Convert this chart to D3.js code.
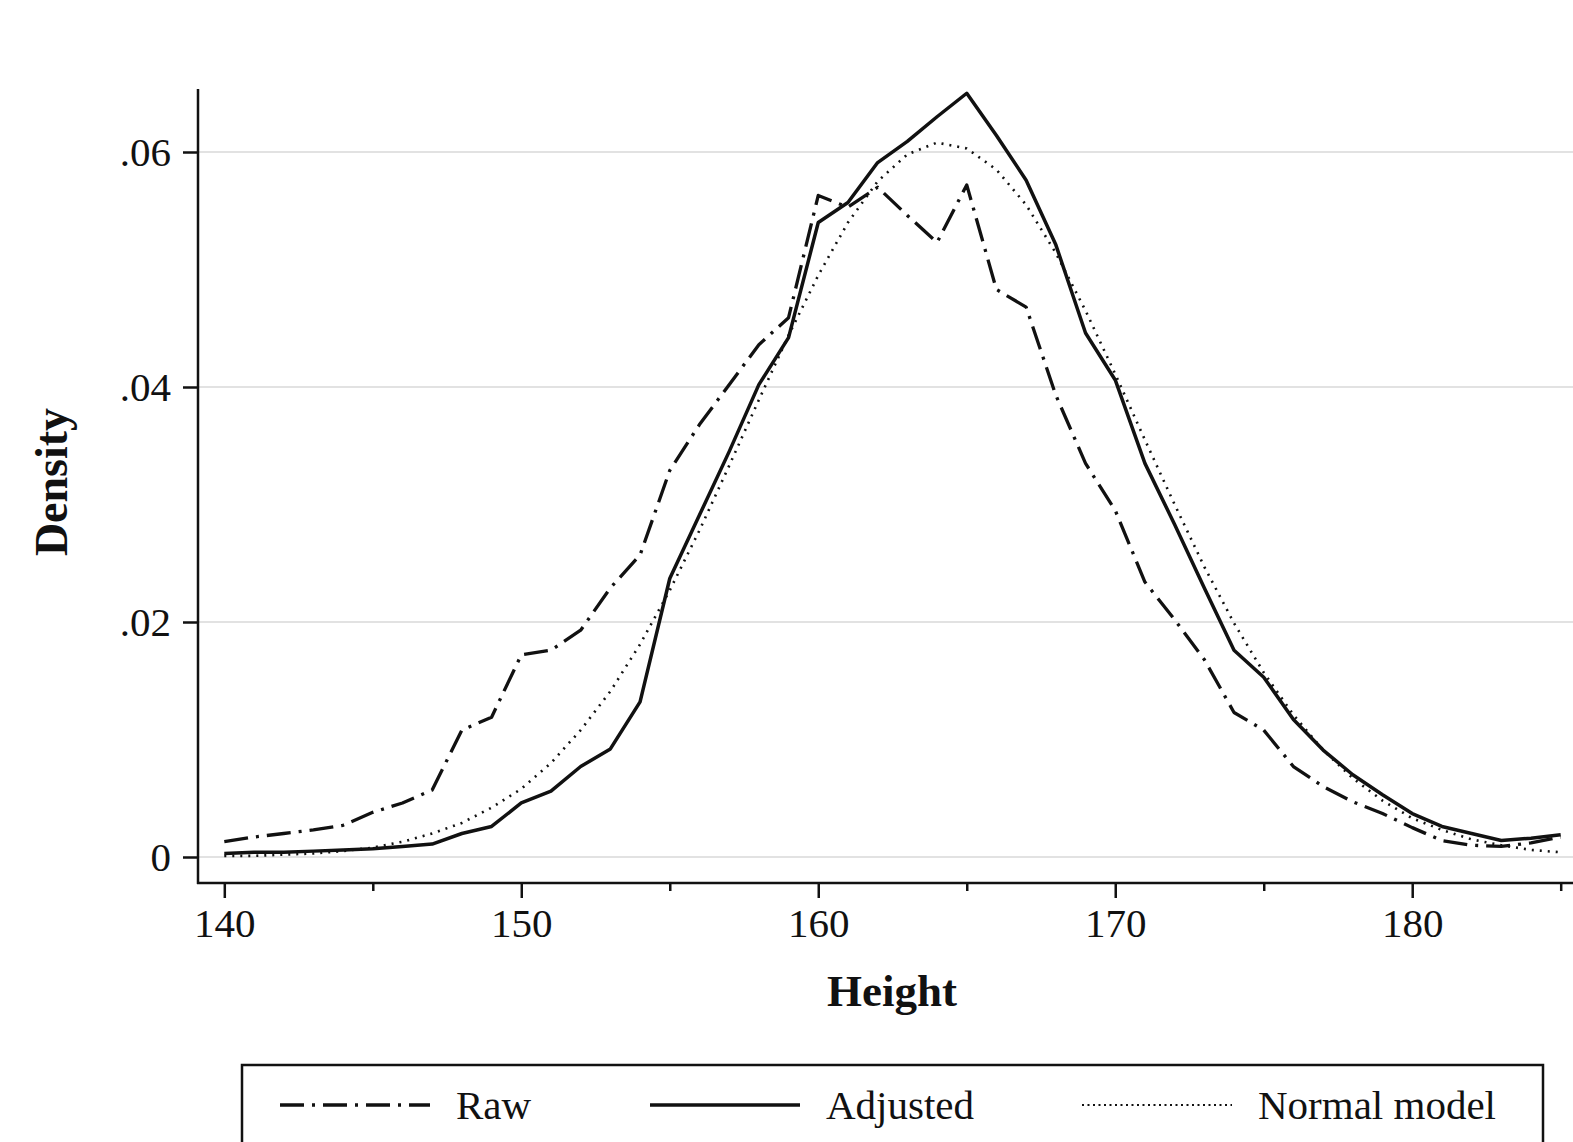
<!DOCTYPE html>
<html>
<head>
<meta charset="UTF-8">
<title>Height density</title>
<script src="https://d3js.org/d3.v7.min.js"></script>
<style>
  body { margin: 0; background: #fff; }
  text { font-family: "Liberation Serif", "DejaVu Serif", serif; fill: #111; }
</style>
</head>
<body>
<div id="chart"></div>
<script>
// heights (cm), one point per integer
var heights = d3.range(140, 186);

// dash-dot line
var rawDensity = [0.0013, 0.0017, 0.0020, 0.0023, 0.0027, 0.0038, 0.0046, 0.0057, 0.0108, 0.0119,
  0.0172, 0.0176, 0.0193, 0.0229, 0.0257, 0.0329, 0.0368, 0.0402, 0.0436, 0.0459,
  0.0563, 0.0553, 0.0570, 0.0546, 0.0523, 0.0572, 0.0483, 0.0468, 0.0393, 0.0335,
  0.0295, 0.0234, 0.0202, 0.0168, 0.0123, 0.0108, 0.0077, 0.0060, 0.0047, 0.0037,
  0.0025, 0.0014, 0.0010, 0.0009, 0.0012, 0.0017];

// solid line
var adjustedDensity = [0.0003, 0.0004, 0.0004, 0.0005, 0.0006, 0.0007, 0.0009, 0.0011, 0.0020, 0.0026,
  0.0046, 0.0056, 0.0077, 0.0092, 0.0132, 0.0237, 0.0291, 0.0345, 0.0402, 0.0442,
  0.0540, 0.0557, 0.0591, 0.0609, 0.0630, 0.0650, 0.0614, 0.0576, 0.0521, 0.0446,
  0.0406, 0.0335, 0.0283, 0.0229, 0.0176, 0.0153, 0.0117, 0.0091, 0.0070, 0.0053,
  0.0037, 0.0026, 0.0020, 0.0014, 0.0016, 0.0019];

// dotted line
var normalDensity = [0.0001, 0.0001, 0.0002, 0.0003, 0.0005, 0.0008, 0.0013, 0.0020, 0.0029, 0.0042,
  0.0058, 0.0080, 0.0108, 0.0141, 0.0181, 0.0227, 0.0278, 0.0333, 0.0389, 0.0444,
  0.0495, 0.0540, 0.0575, 0.0598, 0.0608, 0.0603, 0.0585, 0.0555, 0.0514, 0.0465,
  0.0411, 0.0355, 0.0300, 0.0247, 0.0199, 0.0157, 0.0121, 0.0091, 0.0067, 0.0048,
  0.0033, 0.0023, 0.0015, 0.0010, 0.0006, 0.0004];

var xMajor = [140, 150, 160, 170, 180];
var xMinor = [145, 155, 165, 175, 185];
var yTicks = [0, 0.02, 0.04, 0.06];
var yTickLabels = ["0", ".02", ".04", ".06"];

var seriesNames = ["Raw", "Adjusted", "Normal model"];

var width = 1573, height = 1142;

var svg = d3.select("#chart").append("svg")
    .attr("width", width)
    .attr("height", height);

var x = d3.scaleLinear().domain([140, 185]).range([224.3, 1560.7]);
var y = d3.scaleLinear().domain([0, 0.06]).range([857, 152]);

var axisX = 198, axisY = 883;

// grid lines
svg.append("g").selectAll("line")
    .data(yTicks)
    .enter().append("line")
    .attr("x1", axisX).attr("x2", width)
    .attr("y1", function(d) { return y(d); })
    .attr("y2", function(d) { return y(d); })
    .attr("stroke", "#e2e2e2")
    .attr("stroke-width", 2);

// x axis
var gx = svg.append("g").attr("transform", "translate(0," + axisY + ")");
gx.call(d3.axisBottom(x).tickValues(xMajor).tickSize(15).tickPadding(10).tickFormat(d3.format("d")));
gx.append("g").call(d3.axisBottom(x).tickValues(xMinor).tickSize(8).tickFormat(""));
gx.selectAll(".domain").remove();
gx.selectAll("line").attr("stroke", "#111").attr("stroke-width", 2.5);
gx.selectAll("text")
    .attr("font-size", 41)
    .attr("font-family", "Liberation Serif")
    .attr("fill", "#111");
svg.append("line")
    .attr("x1", axisX - 1).attr("x2", width)
    .attr("y1", axisY).attr("y2", axisY)
    .attr("stroke", "#111").attr("stroke-width", 2.5);

// y axis
var gy = svg.append("g").attr("transform", "translate(" + axisX + ",0)");
gy.call(d3.axisLeft(y).tickValues(yTicks).tickSize(15).tickPadding(12)
    .tickFormat(function(d, i) { return yTickLabels[i]; }));
gy.selectAll(".domain").remove();
gy.selectAll("line").attr("stroke", "#111").attr("stroke-width", 2.5);
gy.selectAll("text")
    .attr("font-size", 41)
    .attr("font-family", "Liberation Serif")
    .attr("fill", "#111");
svg.append("line")
    .attr("x1", axisX).attr("x2", axisX)
    .attr("y1", 89).attr("y2", axisY + 1)
    .attr("stroke", "#111").attr("stroke-width", 2.5);

// axis titles
svg.append("text")
    .attr("x", 892).attr("y", 1006)
    .attr("text-anchor", "middle")
    .attr("font-size", 45)
    .attr("font-weight", "bold")
    .text("Height");

svg.append("text")
    .attr("transform", "translate(67,482) rotate(-90)")
    .attr("text-anchor", "middle")
    .attr("font-size", 46)
    .attr("font-weight", "bold")
    .text("Density");

// lines
var styles = [
  { data: rawDensity, dash: "24,8,3,8", w: 3.3 },
  { data: adjustedDensity, dash: null, w: 3.5 },
  { data: normalDensity, dash: "2,6", w: 2.6 }
];

var line = d3.line()
    .x(function(d) { return x(d[0]); })
    .y(function(d) { return y(d[1]); });

// draw dotted first, solid on top
[2, 0, 1].forEach(function(i) {
  var s = styles[i];
  svg.append("path")
      .datum(heights.map(function(h, j) { return [h, s.data[j]]; }))
      .attr("d", line)
      .attr("fill", "none")
      .attr("stroke", "#111")
      .attr("stroke-width", s.w)
      .attr("stroke-linejoin", "round")
      .attr("stroke-dasharray", s.dash);
});

// legend
svg.append("rect")
    .attr("x", 242).attr("y", 1065)
    .attr("width", 1301).attr("height", 130)
    .attr("fill", "#fff")
    .attr("stroke", "#111")
    .attr("stroke-width", 2.5);

var legendX = [280, 650, 1082];
var legendDash = ["24,8,3,8", null, "2,3.5"];
var legendW = [3.3, 3.5, 1.8];

seriesNames.forEach(function(name, i) {
  svg.append("line")
      .attr("x1", legendX[i]).attr("x2", legendX[i] + 150)
      .attr("y1", 1105).attr("y2", 1105)
      .attr("stroke", "#111")
      .attr("stroke-width", legendW[i])
      .attr("stroke-dasharray", legendDash[i]);
  svg.append("text")
      .attr("x", legendX[i] + 176).attr("y", 1119)
      .attr("font-size", 41)
      .text(name);
});
</script>
</body>
</html>
